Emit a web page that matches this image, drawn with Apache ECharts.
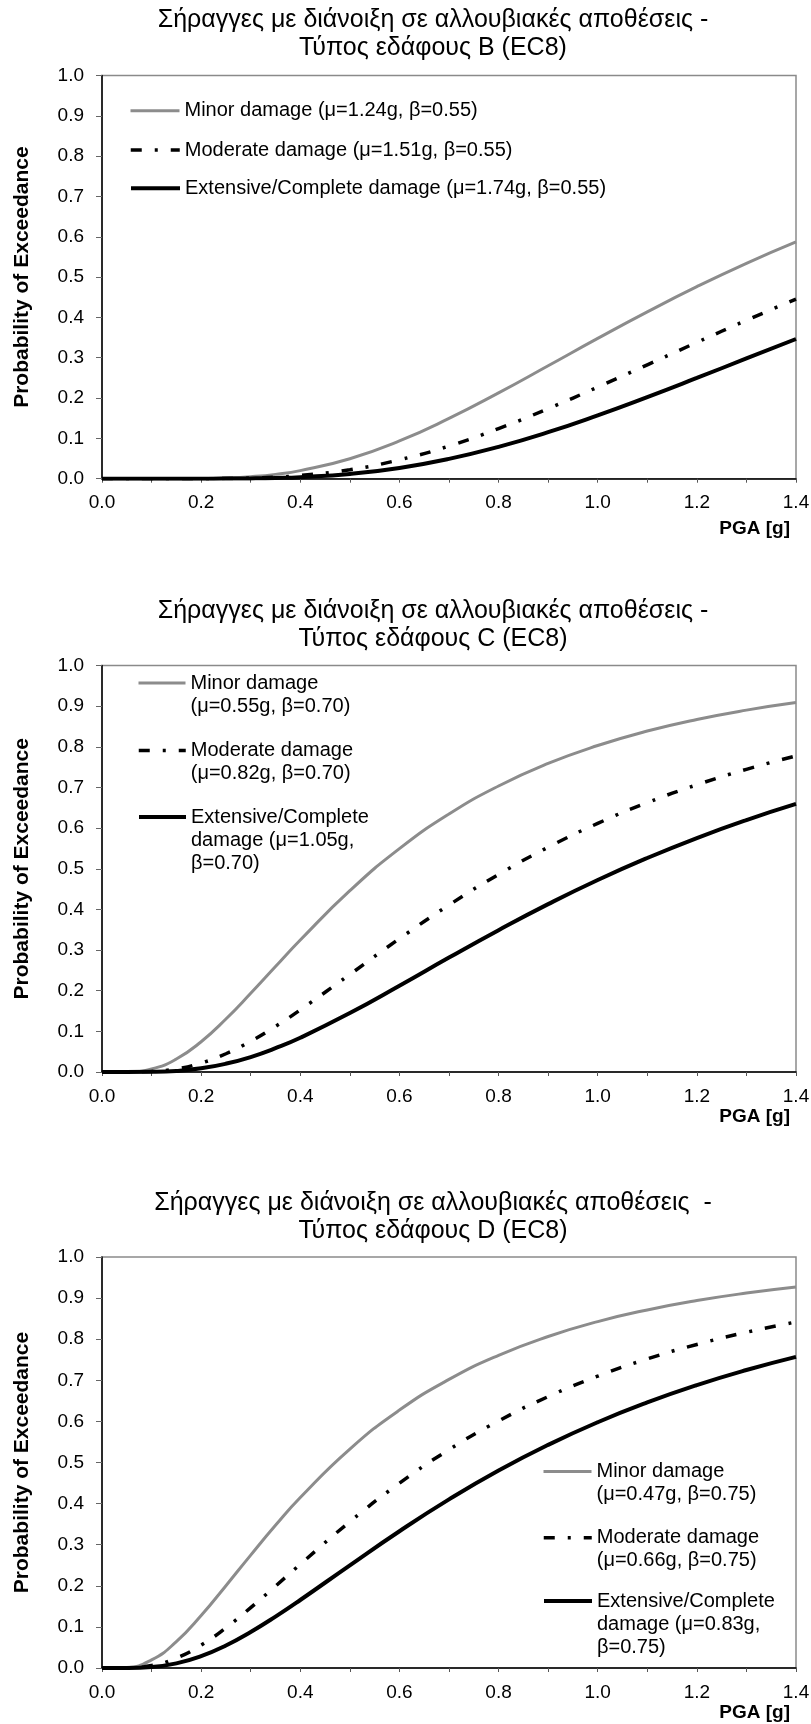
<!doctype html>
<html>
<head>
<meta charset="utf-8">
<title>Σήραγγες με διάνοιξη σε αλλουβιακές αποθέσεις</title>
<style>
html, body { margin: 0; padding: 0; background: #fff; }
#main { width: 811px; height: 1724px; }
</style>
</head>
<body>
<div id="main"></div>
<script src="https://cdn.jsdelivr.net/npm/echarts@6/dist/echarts.min.js"></script>
<script>
// PGA [g] sample points (x axis)
var pga = [0, 0.05, 0.1, 0.15, 0.2, 0.25, 0.3, 0.35, 0.4, 0.5, 0.6, 0.7, 0.8, 0.9, 1.0, 1.1, 1.2, 1.3, 1.4];

// ground type B
var titleB = ['Σήραγγες με διάνοιξη σε αλλουβιακές αποθέσεις -', 'Τύπος εδάφους B (EC8)'];
var namesB = ['Minor damage (μ=1.24g, β=0.55)', 'Moderate damage (μ=1.51g, β=0.55)', 'Extensive/Complete damage (μ=1.74g, β=0.55)'];
var minorB = [0, 0, 0, 0.0001, 0.0005, 0.0018, 0.0050, 0.0107, 0.0200, 0.0496, 0.0936, 0.1495, 0.2128, 0.2801, 0.3480, 0.4138, 0.4763, 0.5342, 0.5873];
var moderateB = [0, 0, 0, 0, 0.0001, 0.0005, 0.0017, 0.0039, 0.0079, 0.0224, 0.0468, 0.0811, 0.1244, 0.1737, 0.2273, 0.2825, 0.3381, 0.3929, 0.4454];
var extensiveB = [0, 0, 0, 0, 0, 0.0002, 0.0007, 0.0018, 0.0038, 0.0118, 0.0266, 0.0491, 0.0790, 0.1153, 0.1571, 0.2024, 0.2498, 0.2982, 0.3465];

// ground type C
var titleC = ['Σήραγγες με διάνοιξη σε αλλουβιακές αποθέσεις -', 'Τύπος εδάφους C (EC8)'];
var namesC = ['Minor damage\n(μ=0.55g, β=0.70)', 'Moderate damage\n(μ=0.82g, β=0.70)', 'Extensive/Complete\ndamage (μ=1.05g,\nβ=0.70)'];
var minorC = [0, 0.0003, 0.0075, 0.0319, 0.0745, 0.1303, 0.1936, 0.2594, 0.3247, 0.4460, 0.5494, 0.6346, 0.7036, 0.7590, 0.8031, 0.8388, 0.8673, 0.8902, 0.9088];
var moderateC = [0, 0, 0.0013, 0.0077, 0.0220, 0.0449, 0.0757, 0.1122, 0.1529, 0.2400, 0.3280, 0.4107, 0.4860, 0.5528, 0.6116, 0.6625, 0.7065, 0.7446, 0.7774];
var extensiveC = [0, 0, 0.0004, 0.0027, 0.0090, 0.0204, 0.0368, 0.0585, 0.0842, 0.1449, 0.2121, 0.2814, 0.3489, 0.4129, 0.4723, 0.5264, 0.5756, 0.6198, 0.6594];

// ground type D
var titleD = ['Σήραγγες με διάνοιξη σε αλλουβιακές αποθέσεις  -', 'Τύπος εδάφους D (EC8)'];
var namesD = ['Minor damage\n(μ=0.47g, β=0.75)', 'Moderate damage\n(μ=0.66g, β=0.75)', 'Extensive/Complete\ndamage (μ=0.83g,\nβ=0.75)'];
var minorD = [0, 0.0014, 0.0197, 0.0641, 0.1276, 0.2003, 0.2747, 0.3472, 0.4149, 0.5328, 0.6275, 0.7021, 0.7608, 0.8065, 0.8428, 0.8712, 0.8940, 0.9122, 0.9269];
var moderateD = [0, 0.0003, 0.0060, 0.0242, 0.0558, 0.0978, 0.1469, 0.1992, 0.2524, 0.3558, 0.4495, 0.5312, 0.6011, 0.6603, 0.7100, 0.7519, 0.7872, 0.8169, 0.8419];
var extensiveD = [0, 0.0001, 0.0024, 0.0113, 0.0289, 0.0548, 0.0877, 0.1251, 0.1655, 0.2498, 0.3328, 0.4102, 0.4805, 0.5429, 0.5980, 0.6462, 0.6884, 0.7251, 0.7571];

var FONT = "'Liberation Sans', Arial, sans-serif";
var LH = 23; // legend line height

var panels = [
  { title: titleB, names: namesB, curves: [minorB, moderateB, extensiveB],
    top: 75.5, height: 403.2, titleTop: 6.5, legLeft: 129, legW: 49, legY: [110.7, 150, 188.3], nameOff: 40 },
  { title: titleC, names: namesC, curves: [minorC, moderateC, extensiveC],
    top: 665.5, height: 406.5, titleTop: 597, legLeft: 137, legW: 47, legY: [683, 750.5, 817], nameOff: 35 },
  { title: titleD, names: namesD, curves: [minorD, moderateD, extensiveD],
    top: 1257, height: 411, titleTop: 1189, legLeft: 542, legW: 48, legY: [1471.5, 1537.8, 1601], nameOff: 35 }
];

var styles = [
  { color: '#8c8c8c', width: 3, type: 'solid' },
  { color: '#000', width: 3.5, type: [11, 13, 3, 13] },
  { color: '#000', width: 4, type: 'solid' }
];

function oneDec(v) { return v.toFixed(1); }

// blank lines in front so the icon sits on the first text line
function leadBlank(name) {
  var n = name.split('\n').length;
  return new Array(n).join('\n') + name;
}

var option = {
  animation: false,
  backgroundColor: '#fff',
  title: [], legend: [], grid: [], xAxis: [], yAxis: [], series: []
};

panels.forEach(function (p, k) {
  option.title.push({
    text: p.title.join('\n'),
    left: 433, top: p.titleTop, textAlign: 'center', padding: 0,
    textStyle: { fontFamily: FONT, fontSize: 25, fontWeight: 'normal', color: '#000', lineHeight: 28 }
  });
  option.grid.push({
    left: 102, width: 694, top: p.top, height: p.height,
    show: true, borderColor: '#8a8a8a', borderWidth: 1.5,
    containLabel: false, outerBoundsMode: 'none'
  });
  option.xAxis.push({
    type: 'value', gridIndex: k, min: 0, max: 1.4, interval: 0.2,
    name: 'PGA [g]', nameLocation: 'end', nameGap: -6, nameMoveOverlap: false,
    nameTextStyle: { fontFamily: FONT, fontSize: 19, fontWeight: 'bold', color: '#000',
      align: 'right', verticalAlign: 'top', lineHeight: 20, padding: [p.nameOff, 0, 0, 0] },
    axisLine: { show: true, onZero: false, lineStyle: { color: '#000', width: 1.5 } },
    axisTick: { show: true, inside: false, length: 4, lineStyle: { color: '#555' } },
    minorTick: { show: true, splitNumber: 2, length: 4, lineStyle: { color: '#555' } },
    axisLabel: { margin: 15, fontFamily: FONT, fontSize: 19, color: '#000', formatter: oneDec,
      showMinLabel: true, showMaxLabel: true },
    splitLine: { show: false }, minorSplitLine: { show: false }
  });
  option.yAxis.push({
    type: 'value', gridIndex: k, min: 0, max: 1, interval: 0.1,
    name: 'Probability of Exceedance', nameLocation: 'middle', nameGap: 69,
    nameTextStyle: { fontFamily: FONT, fontSize: 21, fontWeight: 'bold', color: '#000' },
    axisLine: { show: true, onZero: false, lineStyle: { color: '#000', width: 1.5 } },
    axisTick: { show: true, inside: false, length: 6, lineStyle: { color: '#666' } },
    axisLabel: { margin: 18, fontFamily: FONT, fontSize: 19, color: '#000', formatter: oneDec,
      showMinLabel: true, showMaxLabel: true },
    splitLine: { show: false }
  });
  p.curves.forEach(function (vals, j) {
    var name = p.names[j];
    option.series.push({
      type: 'line', name: name, xAxisIndex: k, yAxisIndex: k,
      data: pga.map(function (x, i) { return [x, vals[i]]; }),
      symbol: 'none', smooth: 0.5, z: 2 + j,
      itemStyle: { color: styles[j].color },
      lineStyle: styles[j]
    });
    var lines = name.split('\n').length;
    option.legend.push({
      data: [name], orient: 'vertical', padding: 0, selectedMode: false,
      left: p.legLeft, top: p.legY[j] - (2 * lines - 1) * LH / 2,
      itemWidth: p.legW, itemHeight: 14,
      formatter: leadBlank,
      itemStyle: { opacity: 0 },
      lineStyle: { width: styles[j].width },
      textStyle: { fontFamily: FONT, fontSize: 20, color: '#000', lineHeight: LH }
    });
  });
});

var myChart = echarts.init(document.getElementById('main'));
myChart.setOption(option);
</script>
</body>
</html>
